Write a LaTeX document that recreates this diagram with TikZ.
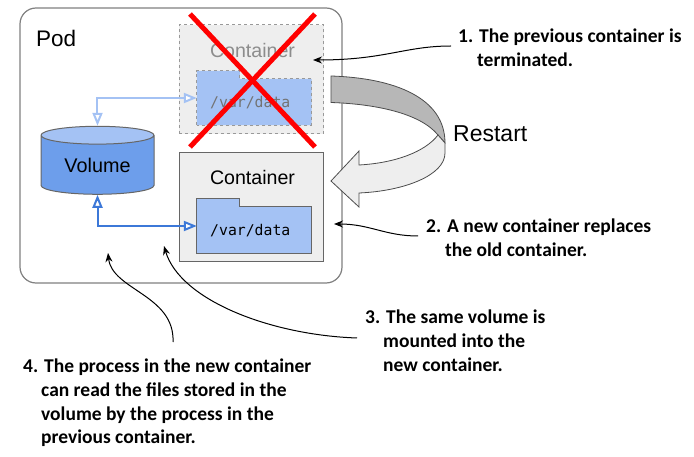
\documentclass[tikz,border=0pt]{standalone}
\usepackage{xcolor}
\usepackage{fontspec}
\usetikzlibrary{arrows.meta,shapes.geometric}
\setmainfont{Liberation Sans}
\newfontfamily\notefont{Carlito}[BoldFont={Carlito Bold}]
\newfontfamily\pathfont{DejaVu Sans Mono}
\definecolor{folderblue}{HTML}{A4C2F4}
\definecolor{volumeblue}{HTML}{6D9EEB}
\definecolor{linkblue}{HTML}{3C78D8}
\definecolor{boxgray}{HTML}{EEEEEE}
\definecolor{bandgray}{HTML}{B7B7B7}
\tikzstyle{podbox} = [draw=black!50, line width=1.2pt, rectangle, rounded corners=16pt, minimum width=322pt, minimum height=275pt, inner sep=0pt]
\tikzstyle{contbox} = [draw=black!60, fill=boxgray, line width=1pt, rectangle, minimum width=144.5pt, minimum height=109pt, inner sep=0pt]
\tikzstyle{oldbox} = [contbox, draw=black!40, dashed]
\tikzstyle{folderbox} = [draw=black!60, fill=folderblue, line width=1pt]
\tikzstyle{folderarea} = [rectangle, minimum width=114.5pt, minimum height=54pt, inner sep=0pt]
\tikzstyle{pathtext} = [font=\pathfont\fontsize{14.8}{17}\selectfont, anchor=west, inner sep=0pt]
\tikzstyle{conttext} = [font=\fontsize{19.6}{23}\selectfont, inner sep=0pt]
\tikzstyle{mountlink} = [{Triangle[open,fill=white,length=13pt,width=10pt]}-{Triangle[open,fill=white,length=13pt,width=10pt]}, line width=2pt]
\tikzstyle{notetext} = [font=\notefont\bfseries\fontsize{19.5}{23.6}\selectfont, align=left, anchor=north west, inner sep=0pt]
\tikzstyle{notelink} = [-{Stealth[length=9pt,width=7pt]}, line width=1pt, black]
\tikzstyle{crossline} = [red, line width=5pt]
\begin{document}
\begin{tikzpicture}[x=1pt,y=-1pt]
	\useasboundingbox (0,0) rectangle (694,457);
	\node [podbox] (pod) at (181,145.5) {};
	\node [font=\fontsize{22.5}{26}\selectfont, anchor=west, inner sep=0pt] (podlabel) at (36,38) {Pod};
	% old container
	\node [oldbox] (oldcont) at (251.25,79.5) {};
	\node [conttext, text=black!45] (oldname) at (252.5,50) {Container};
	\node [folderarea] (oldfolder) at (254.25,98) {};
	\draw [folderbox, draw=black!40, dashed] (oldfolder.south west) -- (oldfolder.north west) -- ++(43,0) -- ++(0,8) -| (oldfolder.south east) -- cycle;
	\node [pathtext, text=black!55] (oldpath) at (210,103) {/var/data};
	% new container
	\node [contbox] (newcont) at (251.25,207.5) {};
	\node [conttext] (newname) at (252.5,177.5) {Container};
	\node [folderarea] (newfolder) at (254.25,226) {};
	\draw [folderbox] (newfolder.south west) -- (newfolder.north west) -- ++(43,0) -- ++(0,8) -| (newfolder.south east) -- cycle;
	\node [pathtext] (newpath) at (210,231) {/var/data};
	% volume
	\node [cylinder, shape border rotate=90, draw=black!60, line width=1pt, cylinder uses custom fill, cylinder body fill=volumeblue, cylinder end fill=folderblue, minimum width=113pt, minimum height=68pt, aspect=.27, inner sep=0pt, font=\fontsize{19.8}{23}\selectfont] (volume) at (97.5,165) {Volume};
	\draw [mountlink, folderblue] (volume.north) |- (oldfolder.west);
	\draw [mountlink, linkblue] (volume.south) |- (newfolder.west);
	% restart arrow
	\coordinate (bandstart) at (331,76);
	\coordinate (fold) at (438,135);
	\draw [draw=black!70, fill=bandgray, line width=.8pt] (bandstart) .. controls (395,78) and (445,98) .. (445,143) -- (fold) .. controls (420,113) and (375,104) .. (331,102.5) -- cycle;
	\draw [draw=black!70, fill=boxgray, line width=.8pt] (fold) .. controls (425,152) and (395,163) .. (359,165) -- (359,151) -- (331,181) -- (359,207) -- (359,193) .. controls (405,191) and (445,175) .. (445,153) -- (445,143) -- cycle;
	\node [font=\fontsize{23}{27}\selectfont, anchor=west, inner sep=0pt] (restart) at (453,134) {Restart};
	% crossed out
	\coordinate (crossa) at (190,14);
	\coordinate (crossb) at (315,147);
	\coordinate (crossc) at (315,14);
	\coordinate (crossd) at (190,147);
	\draw [crossline] (crossa) -- (crossb);
	\draw [crossline] (crossc) -- (crossd);
	% notes
	\node [notetext] (noteone) at (458,29) {1. The previous container is\\\hspace*{19pt}terminated.};
	\node [notetext] (notetwo) at (426,219) {2. A new container replaces\\\hspace*{19pt}the old container.};
	\node [notetext] (notethree) at (365,310) {3. The same volume is\\\hspace*{18pt}mounted into the\\\hspace*{18pt}new container.};
	\node [notetext] (notefour) at (23,359) {4. The process in the new container\\\hspace*{18pt}can read the files stored in the\\\hspace*{18pt}volume by the process in the\\\hspace*{18pt}previous container.};
	\coordinate (oneend) at (313,60);
	\coordinate (onestart) at (451,46);
	\coordinate (twoend) at (334,224);
	\coordinate (twostart) at (418,236);
	\coordinate (threeend) at (164,246);
	\coordinate (threestart) at (357,338);
	\coordinate (fourend) at (108,253);
	\coordinate (fourstart) at (173,342);
	\draw [notelink] (onestart) .. controls (405,46) and (385,60) .. (oneend);
	\draw [notelink] (twostart) .. controls (385,236) and (370,224) .. (twoend);
	\draw [notelink] (threestart) .. controls (270,335) and (180,300) .. (threeend);
	\draw [notelink] (fourstart) .. controls (175,295) and (112,290) .. (fourend);
\end{tikzpicture}
\end{document}
